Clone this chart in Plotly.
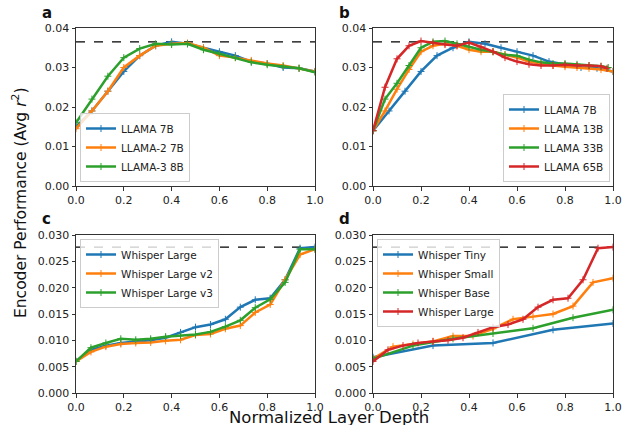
import plotly.graph_objects as go

# ---------------- data ----------------
x16 = [i / 15 for i in range(16)]
a_llama7b = [0.015, 0.019, 0.024, 0.029, 0.033, 0.0355, 0.0365, 0.036, 0.035, 0.034, 0.033, 0.0315, 0.031, 0.030, 0.0298, 0.029]
a_llama2_7b = [0.0145, 0.019, 0.024, 0.030, 0.033, 0.0355, 0.036, 0.0362, 0.035, 0.033, 0.0325, 0.0318, 0.031, 0.0305, 0.0298, 0.029]
a_llama3_8b = [0.016, 0.022, 0.0278, 0.0325, 0.0348, 0.036, 0.0358, 0.036, 0.0345, 0.0335, 0.0325, 0.0313, 0.0307, 0.0303, 0.0298, 0.0288]

x21 = [i * 0.05 for i in range(20)] + [0.98]
x21b = [i * 0.05 for i in range(21)]
x21c = [i * 0.05 for i in range(20)] + [0.975]
b_llama7b = [0.014, 0.019, 0.024, 0.029, 0.033, 0.035, 0.0365, 0.036, 0.035, 0.034, 0.033, 0.0315, 0.0307, 0.030, 0.0298, 0.029]
b_llama13b = [0.014, 0.019, 0.0245, 0.0295, 0.034, 0.0355, 0.036, 0.0355, 0.0345, 0.034, 0.034, 0.0333, 0.0325, 0.0315, 0.031, 0.0305, 0.0302, 0.030, 0.0298, 0.0295, 0.029]
b_llama33b = [0.014, 0.022, 0.026, 0.0305, 0.035, 0.0365, 0.0367, 0.036, 0.0352, 0.0345, 0.034, 0.0332, 0.033, 0.032, 0.0313, 0.031, 0.031, 0.0308, 0.0305, 0.0303, 0.030]
b_llama65b = [0.014, 0.025, 0.0322, 0.0355, 0.0367, 0.0362, 0.0358, 0.0355, 0.0363, 0.0352, 0.034, 0.0325, 0.0315, 0.0308, 0.0305, 0.0305, 0.0307, 0.0305, 0.0305, 0.0303, 0.0298]

x17 = [i / 16 for i in range(17)]
c_large = [0.006, 0.0082, 0.009, 0.0095, 0.0098, 0.010, 0.0105, 0.0115, 0.0125, 0.013, 0.014, 0.0163, 0.0177, 0.018, 0.0215, 0.0275, 0.0277]
c_large_v2 = [0.006, 0.0078, 0.0088, 0.0093, 0.0095, 0.0096, 0.0099, 0.0101, 0.011, 0.0112, 0.0122, 0.0128, 0.0153, 0.0168, 0.0215, 0.0263, 0.0273]
c_large_v3 = [0.006, 0.0086, 0.0095, 0.0103, 0.0101, 0.0103, 0.0107, 0.0109, 0.0111, 0.0116, 0.0126, 0.0138, 0.0162, 0.0178, 0.021, 0.0273, 0.0273]

x_tiny = [0, 0.25, 0.5, 0.75, 1.0]
d_tiny = [0.0068, 0.009, 0.0095, 0.012, 0.0132]
x_small = [i / 12 for i in range(13)]
d_small = [0.0065, 0.0088, 0.0093, 0.0098, 0.0108, 0.0108, 0.0122, 0.014, 0.0145, 0.015, 0.0165, 0.021, 0.0218]
x_base = [i / 6 for i in range(7)]
d_base = [0.0065, 0.009, 0.0103, 0.0113, 0.0123, 0.0143, 0.0158]

ceil_llama = 0.0365
ceil_whisper = 0.0277

# ---------------- figure ----------------
BLUE, ORANGE, GREEN, RED = "#1f77b4", "#ff7f0e", "#2ca02c", "#d62728"
FONT = "DejaVu Sans"
fig = go.Figure()

def add(x, y, name, color, xa, ya, leg):
    fig.add_trace(go.Scatter(
        x=x, y=y, name=name, mode="lines+markers",
        line=dict(color=color, width=2.5),
        marker=dict(symbol="cross-thin-open", size=5, color=color, line=dict(color=color, width=1)),
        xaxis=xa, yaxis=ya, legend=leg))

def dash(yv, xa, ya):
    fig.add_trace(go.Scatter(x=[0, 1], y=[yv, yv], mode="lines", showlegend=False,
                             line=dict(color="black", width=1.2, dash="dash"),
                             xaxis=xa, yaxis=ya, hoverinfo="skip"))

dash(ceil_llama, "x", "y")
add(x16, a_llama7b, "LLAMA 7B", BLUE, "x", "y", "legend")
add(x16, a_llama2_7b, "LLAMA-2 7B", ORANGE, "x", "y", "legend")
add(x16, a_llama3_8b, "LLAMA-3 8B", GREEN, "x", "y", "legend")

dash(ceil_llama, "x2", "y2")
add(x16, b_llama7b, "LLAMA 7B", BLUE, "x2", "y2", "legend2")
add(x21b, b_llama13b, "LLAMA 13B", ORANGE, "x2", "y2", "legend2")
add(x21, b_llama33b, "LLAMA 33B", GREEN, "x2", "y2", "legend2")
add(x21c, b_llama65b, "LLAMA 65B", RED, "x2", "y2", "legend2")

dash(ceil_whisper, "x3", "y3")
add(x17, c_large, "Whisper Large", BLUE, "x3", "y3", "legend3")
add(x17, c_large_v2, "Whisper Large v2", ORANGE, "x3", "y3", "legend3")
add(x17, c_large_v3, "Whisper Large v3", GREEN, "x3", "y3", "legend3")

dash(ceil_whisper, "x4", "y4")
add(x_tiny, d_tiny, "Whisper Tiny", BLUE, "x4", "y4", "legend4")
add(x_small, d_small, "Whisper Small", ORANGE, "x4", "y4", "legend4")
add(x_base, d_base, "Whisper Base", GREEN, "x4", "y4", "legend4")
add(x17, c_large, "Whisper Large", RED, "x4", "y4", "legend4")

W, H = 624, 425
def px(v): return v / W
def py(v): return 1 - v / H

xl = [px(76), px(315)]
xr = [px(373), px(613)]
yt = [py(186), py(28)]
yb = [py(393), py(235)]

axcommon = dict(showgrid=False, zeroline=False, showline=True, linecolor="#333", linewidth=1,
                mirror=True, ticks="outside", ticklen=3.5, tickwidth=1, tickcolor="#333",
                automargin=False,
                tickfont=dict(family=FONT, size=11, color="#222"))
xax = dict(range=[0, 1], tickvals=[0, 0.2, 0.4, 0.6, 0.8, 1.0], tickformat=".1f", **axcommon)
ytop = dict(range=[0, 0.04], tickvals=[0, 0.01, 0.02, 0.03, 0.04], tickformat=".2f", **axcommon)
ybot = dict(range=[0, 0.03], tickvals=[0, 0.005, 0.01, 0.015, 0.02, 0.025, 0.03], tickformat=".3f", **axcommon)

legcommon = dict(bgcolor="rgba(255,255,255,0.8)", bordercolor="#ccc", borderwidth=1,
                 font=dict(family=FONT, size=10.5, color="#222"), tracegroupgap=0,
                 itemwidth=30)

fig.update_layout(
    width=W, height=H, margin=dict(l=0, r=0, t=0, b=0, autoexpand=False),
    paper_bgcolor="white", plot_bgcolor="white",
    xaxis=dict(domain=xl, anchor="y", **xax),
    yaxis=dict(domain=yt, anchor="x", **ytop),
    xaxis2=dict(domain=xr, anchor="y2", **xax),
    yaxis2=dict(domain=yt, anchor="x2", **ytop),
    xaxis3=dict(domain=xl, anchor="y3", **xax),
    yaxis3=dict(domain=yb, anchor="x3", **ybot),
    xaxis4=dict(domain=xr, anchor="y4", **xax),
    yaxis4=dict(domain=yb, anchor="x4", **ybot),
    legend=dict(x=px(80), y=py(182), xanchor="left", yanchor="bottom", **legcommon),
    legend2=dict(x=px(610), y=py(182), xanchor="right", yanchor="bottom", **legcommon),
    legend3=dict(x=px(80), y=py(239), xanchor="left", yanchor="top", **legcommon),
    legend4=dict(x=px(377), y=py(239), xanchor="left", yanchor="top", **legcommon),
    showlegend=True,
)

lab = dict(xref="paper", yref="paper", showarrow=False, xanchor="left", yanchor="middle",
           font=dict(family=FONT, size=15, color="#111"))
ann = [
    dict(text="<b>a</b>", x=px(40), y=py(13), **lab),
    dict(text="<b>b</b>", x=px(337), y=py(13), **lab),
    dict(text="<b>c</b>", x=px(40), y=py(219), **lab),
    dict(text="<b>d</b>", x=px(337), y=py(219), **lab),
    dict(text="Encoder Performance (Avg <i>r</i><sup>2</sup>)", x=px(19), y=py(203), xref="paper", yref="paper",
         xanchor="center", yanchor="middle",
         showarrow=False, textangle=-90, font=dict(family=FONT, size=15.5, color="#111")),
    dict(text="Normalized Layer Depth", x=px(329), y=py(417), xref="paper", yref="paper",
         xanchor="center", yanchor="middle",
         showarrow=False, font=dict(family=FONT, size=16.5, color="#111")),
]
fig.update_layout(annotations=ann)

fig.write_html("out.html", config={"displayModeBar": False},
               post_script="document.body.style.margin='0';document.body.style.overflow='hidden';")
